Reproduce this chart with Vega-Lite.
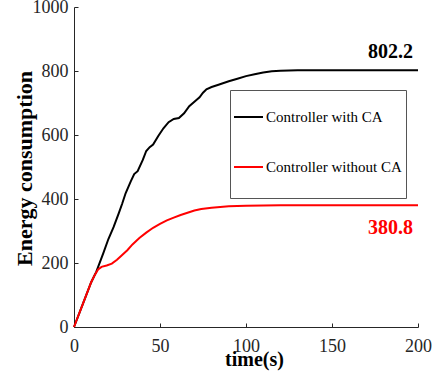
{
  "$schema": "https://vega.github.io/schema/vega-lite/v6.json",
  "width": 344,
  "height": 320,
  "autosize": {"type": "none"},
  "padding": {"left": 74, "top": 7, "right": 20, "bottom": 49},
  "background": "white",
  "config": {
    "view": {"stroke": null},
    "font": "Liberation Serif",
    "axis": {
      "domainColor": "#262626",
      "tickColor": "#262626",
      "labelColor": "#262626",
      "labelFont": "Liberation Serif",
      "labelFontSize": 18,
      "tickSize": -4,
      "grid": false,
      "labelFlush": false,
      "titleFont": "Liberation Serif",
      "titleFontSize": 20,
      "titleFontWeight": "bold",
      "titleColor": "#000000"
    }
  },
  "datasets": {
    "curves": [
      {"series": "Controller with CA", "t": 0, "E": 0},
      {"series": "Controller with CA", "t": 5, "E": 70},
      {"series": "Controller with CA", "t": 10, "E": 140},
      {"series": "Controller with CA", "t": 13, "E": 173},
      {"series": "Controller with CA", "t": 17, "E": 230},
      {"series": "Controller with CA", "t": 20, "E": 275},
      {"series": "Controller with CA", "t": 23, "E": 312},
      {"series": "Controller with CA", "t": 26, "E": 355},
      {"series": "Controller with CA", "t": 28, "E": 385},
      {"series": "Controller with CA", "t": 30, "E": 418},
      {"series": "Controller with CA", "t": 33, "E": 455},
      {"series": "Controller with CA", "t": 35, "E": 478},
      {"series": "Controller with CA", "t": 37, "E": 487},
      {"series": "Controller with CA", "t": 40, "E": 522},
      {"series": "Controller with CA", "t": 42, "E": 550},
      {"series": "Controller with CA", "t": 44, "E": 562},
      {"series": "Controller with CA", "t": 46, "E": 570},
      {"series": "Controller with CA", "t": 49, "E": 597},
      {"series": "Controller with CA", "t": 52, "E": 621},
      {"series": "Controller with CA", "t": 55, "E": 640},
      {"series": "Controller with CA", "t": 58, "E": 650},
      {"series": "Controller with CA", "t": 61, "E": 653},
      {"series": "Controller with CA", "t": 64, "E": 668},
      {"series": "Controller with CA", "t": 67, "E": 690},
      {"series": "Controller with CA", "t": 70, "E": 704},
      {"series": "Controller with CA", "t": 73, "E": 718},
      {"series": "Controller with CA", "t": 75, "E": 732},
      {"series": "Controller with CA", "t": 77, "E": 743},
      {"series": "Controller with CA", "t": 80, "E": 750},
      {"series": "Controller with CA", "t": 84, "E": 757},
      {"series": "Controller with CA", "t": 90, "E": 768},
      {"series": "Controller with CA", "t": 95, "E": 776},
      {"series": "Controller with CA", "t": 100, "E": 784},
      {"series": "Controller with CA", "t": 105, "E": 790},
      {"series": "Controller with CA", "t": 110, "E": 795},
      {"series": "Controller with CA", "t": 115, "E": 799},
      {"series": "Controller with CA", "t": 120, "E": 801},
      {"series": "Controller with CA", "t": 130, "E": 802},
      {"series": "Controller with CA", "t": 140, "E": 802.2},
      {"series": "Controller with CA", "t": 160, "E": 802.2},
      {"series": "Controller with CA", "t": 200, "E": 802.2},
      {"series": "Controller without CA", "t": 0, "E": 0},
      {"series": "Controller without CA", "t": 5, "E": 70},
      {"series": "Controller without CA", "t": 10, "E": 140},
      {"series": "Controller without CA", "t": 12, "E": 162},
      {"series": "Controller without CA", "t": 14, "E": 180},
      {"series": "Controller without CA", "t": 16, "E": 188},
      {"series": "Controller without CA", "t": 19, "E": 192},
      {"series": "Controller without CA", "t": 22, "E": 198},
      {"series": "Controller without CA", "t": 25, "E": 210},
      {"series": "Controller without CA", "t": 28, "E": 225},
      {"series": "Controller without CA", "t": 31, "E": 240},
      {"series": "Controller without CA", "t": 34, "E": 258},
      {"series": "Controller without CA", "t": 38, "E": 278},
      {"series": "Controller without CA", "t": 42, "E": 295},
      {"series": "Controller without CA", "t": 46, "E": 310},
      {"series": "Controller without CA", "t": 50, "E": 322},
      {"series": "Controller without CA", "t": 54, "E": 333},
      {"series": "Controller without CA", "t": 58, "E": 342},
      {"series": "Controller without CA", "t": 62, "E": 350},
      {"series": "Controller without CA", "t": 66, "E": 357},
      {"series": "Controller without CA", "t": 70, "E": 364},
      {"series": "Controller without CA", "t": 74, "E": 369},
      {"series": "Controller without CA", "t": 80, "E": 373},
      {"series": "Controller without CA", "t": 90, "E": 377},
      {"series": "Controller without CA", "t": 100, "E": 379},
      {"series": "Controller without CA", "t": 110, "E": 380},
      {"series": "Controller without CA", "t": 120, "E": 380.6},
      {"series": "Controller without CA", "t": 140, "E": 380.8},
      {"series": "Controller without CA", "t": 200, "E": 380.8}
    ],
    "finals": [
      {"series": "Controller with CA", "t": 200, "E": 802.2, "label": "802.2"},
      {"series": "Controller without CA", "t": 200, "E": 380.8, "label": "380.8"}
    ]
  },
  "layer": [
    {
      "data": {"name": "curves"},
      "mark": {"type": "line", "strokeWidth": 2},
      "encoding": {
        "x": {
          "field": "t",
          "type": "quantitative",
          "scale": {"domain": [0, 200], "nice": false},
          "axis": {
            "values": [0, 50, 100, 150, 200],
            "format": "d",
            "title": "time(s)",
            "labelPadding": 14,
            "titleX": 180,
            "titleY": 38,
            "titleAlign": "center",
            "titleBaseline": "alphabetic",
            "titleAngle": 0
          }
        },
        "y": {
          "field": "E",
          "type": "quantitative",
          "scale": {"domain": [0, 1000], "nice": false},
          "axis": {
            "values": [0, 200, 400, 600, 800, 1000],
            "format": "d",
            "title": "Energy consumption",
            "titleFontSize": 22,
            "labelPadding": 10,
            "titleX": -43,
            "titleY": 161,
            "titleAlign": "center",
            "titleBaseline": "alphabetic",
            "titleAngle": -90
          }
        },
        "color": {
          "field": "series",
          "type": "nominal",
          "scale": {
            "domain": ["Controller with CA", "Controller without CA"],
            "range": ["#000000", "#ff0000"]
          },
          "legend": {
            "orient": "none",
            "legendX": 156,
            "legendY": 83,
            "title": null,
            "strokeColor": "#555555",
            "fillColor": "#ffffff",
            "padding": 4,
            "symbolType": "M0,-1.04545M-1.04545,0L0.27273,0M0,1.04545",
            "symbolSize": 1936,
            "symbolStrokeWidth": 2,
            "labelFont": "Liberation Serif",
            "labelFontSize": 15,
            "labelColor": "#000000",
            "labelOffset": -14,
            "rowPadding": -6
          }
        }
      }
    },
    {
      "data": {"name": "finals"},
      "transform": [{"filter": "datum.series === 'Controller with CA'"}],
      "mark": {
        "type": "text",
        "align": "right",
        "baseline": "alphabetic",
        "dx": -5,
        "dy": -12,
        "font": "Liberation Serif",
        "fontSize": 20,
        "fontWeight": "bold",
        "color": "#000000"
      },
      "encoding": {
        "x": {"field": "t", "type": "quantitative"},
        "y": {"field": "E", "type": "quantitative"},
        "text": {"field": "label"}
      }
    },
    {
      "data": {"name": "finals"},
      "transform": [{"filter": "datum.series === 'Controller without CA'"}],
      "mark": {
        "type": "text",
        "align": "right",
        "baseline": "alphabetic",
        "dx": -5,
        "dy": 29,
        "font": "Liberation Serif",
        "fontSize": 20,
        "fontWeight": "bold",
        "color": "#ff0000"
      },
      "encoding": {
        "x": {"field": "t", "type": "quantitative"},
        "y": {"field": "E", "type": "quantitative"},
        "text": {"field": "label"}
      }
    }
  ]
}
